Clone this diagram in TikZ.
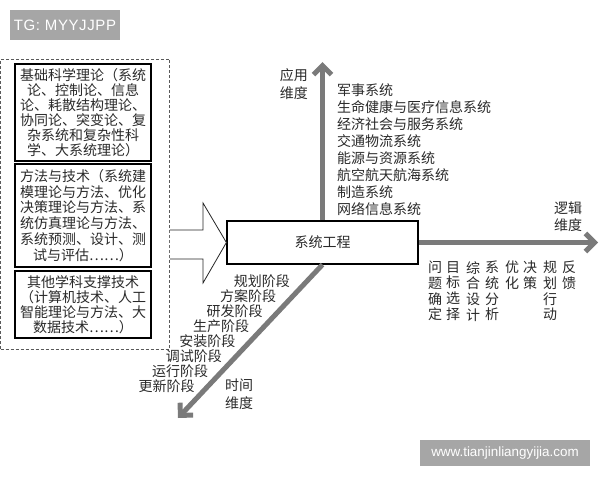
\documentclass[tikz,border=0pt]{standalone}
\usepackage{fontspec}
\setmainfont{Noto Sans CJK SC}
\newfontfamily\latinsans{Liberation Sans}
\usetikzlibrary{arrows.meta}
\definecolor{axisgray}{HTML}{7A7A7A}
\definecolor{badgegray}{HTML}{A6A6A6}
\definecolor{txt}{HTML}{2A2A2A}
\tikzset{
  cjk/.style={font=\fontsize{14pt}{16.5pt}\selectfont, text=txt, inner sep=0pt},
  badge/.style={fill=badgegray, draw=none, text=white},
  textbox/.style={draw=black, line width=1.2pt, minimum width=136pt, align=center,
                  text=txt, inner sep=0pt},
  dashbox/.style={draw=black!65, line width=0.7pt, dash pattern=on 3pt off 2pt},
  axisline/.style={draw=axisgray, line width=5pt,
                   -{Straight Barb[length=9pt,width=18pt]}},
  hollowarrow/.style={draw=black!85, line width=0.8pt, fill=white},
}
\begin{document}
\begin{tikzpicture}[x=1pt,y=-1pt]
\useasboundingbox[fill=white] (0,0) rectangle (600,480);

% badges
\node[badge, minimum width=110pt, minimum height=30pt,
      font=\latinsans\fontsize{15pt}{17pt}\selectfont\addfontfeatures{LetterSpace=4}] (tg) at (65,25) {TG: MYYJJPP};
\node[badge, minimum width=170pt, minimum height=26pt,
      font=\latinsans\fontsize{13.4pt}{15pt}\selectfont] (web) at (505,453) {www.tianjinliangyijia.com};

% dashed container
\node[dashbox, minimum width=169pt, minimum height=290pt] (outer) at (85,204) {};

% left boxes
\node[textbox, minimum height=97pt, font=\fontsize{14pt}{15pt}\selectfont] (b1) at (83,112.5) {基础科学理论（系统\\论、控制论、信息\\论、耗散结构理论、\\协同论、突变论、复\\杂系统和复杂性科\\学、大系统理论）};
\node[textbox, minimum height=103pt, font=\fontsize{14pt}{15.8pt}\selectfont] (b2) at (83,215.5) {方法与技术（系统建\\模理论与方法、优化\\决策理论与方法、系\\统仿真理论与方法、\\系统预测、设计、测\\试与评估……）};
\node[textbox, minimum height=67pt, font=\fontsize{14pt}{15pt}\selectfont] (b3) at (83,304.5) {其他学科支撑技术\\（计算机技术、人工\\智能理论与方法、大\\数据技术……）};

% central box
\node[draw=black, line width=1.2pt, minimum width=191pt, minimum height=43pt, cjk] (sys) at (322.5,242.5) {系统工程};

% hollow arrow from container to system box
\draw[hollowarrow] (outer.east |- 0,230) -- (203,230) -- (203,203) -- (sys.west)
  -- (203,283) -- (203,259) -- (outer.east |- 0,259);

% axes
\coordinate (vtip) at (322.5,62);
\coordinate (htip) at (598,242.5);
\coordinate (dtip) at (178,418);
\draw[axisline] (sys.north) -- (vtip);
\draw[axisline] (sys.east) -- (htip);
\draw[axisline] (sys.south) -- (dtip);

% axis labels
\node[cjk, align=right, anchor=east, font=\fontsize{14pt}{18pt}\selectfont] (appdim) at (308,84) {应用\\维度};
\node[cjk, align=right, font=\fontsize{14pt}{17pt}\selectfont] (logdim) at (568,216.5) {逻辑\\维度};
\node[cjk, align=left, font=\fontsize{14pt}{18pt}\selectfont] (timedim) at (239,394) {时间\\维度};

% application list
\foreach \t [count=\i] in {军事系统,生命健康与医疗信息系统,经济社会与服务系统,交通物流系统,能源与资源系统,航空航天航海系统,制造系统,网络信息系统}
  \node[cjk, anchor=west] (app\i) at (337,{90+17.0*(\i-1)}) {\t};

% logic columns
\foreach \t/\x [count=\i] in {问\\题\\确\\定/435, 目\\标\\选\\择/453, 综\\合\\设\\计/473, 系\\统\\分\\析/492, 优\\化/512, 决\\策/530, 规\\划\\行\\动/550, 反\\馈/569}
  \node[cjk, align=center, anchor=north, font=\fontsize{14pt}{15.7pt}\selectfont] (log\i) at (\x,261) {\t};

% time stages
\foreach \t [count=\i] in {规划阶段,方案阶段,研发阶段,生产阶段,安装阶段,调试阶段,运行阶段,更新阶段}
  \node[cjk, anchor=east] (stage\i) at ({290-13.6*(\i-1)},{281+15*(\i-1)}) {\t};
\end{tikzpicture}
\end{document}
